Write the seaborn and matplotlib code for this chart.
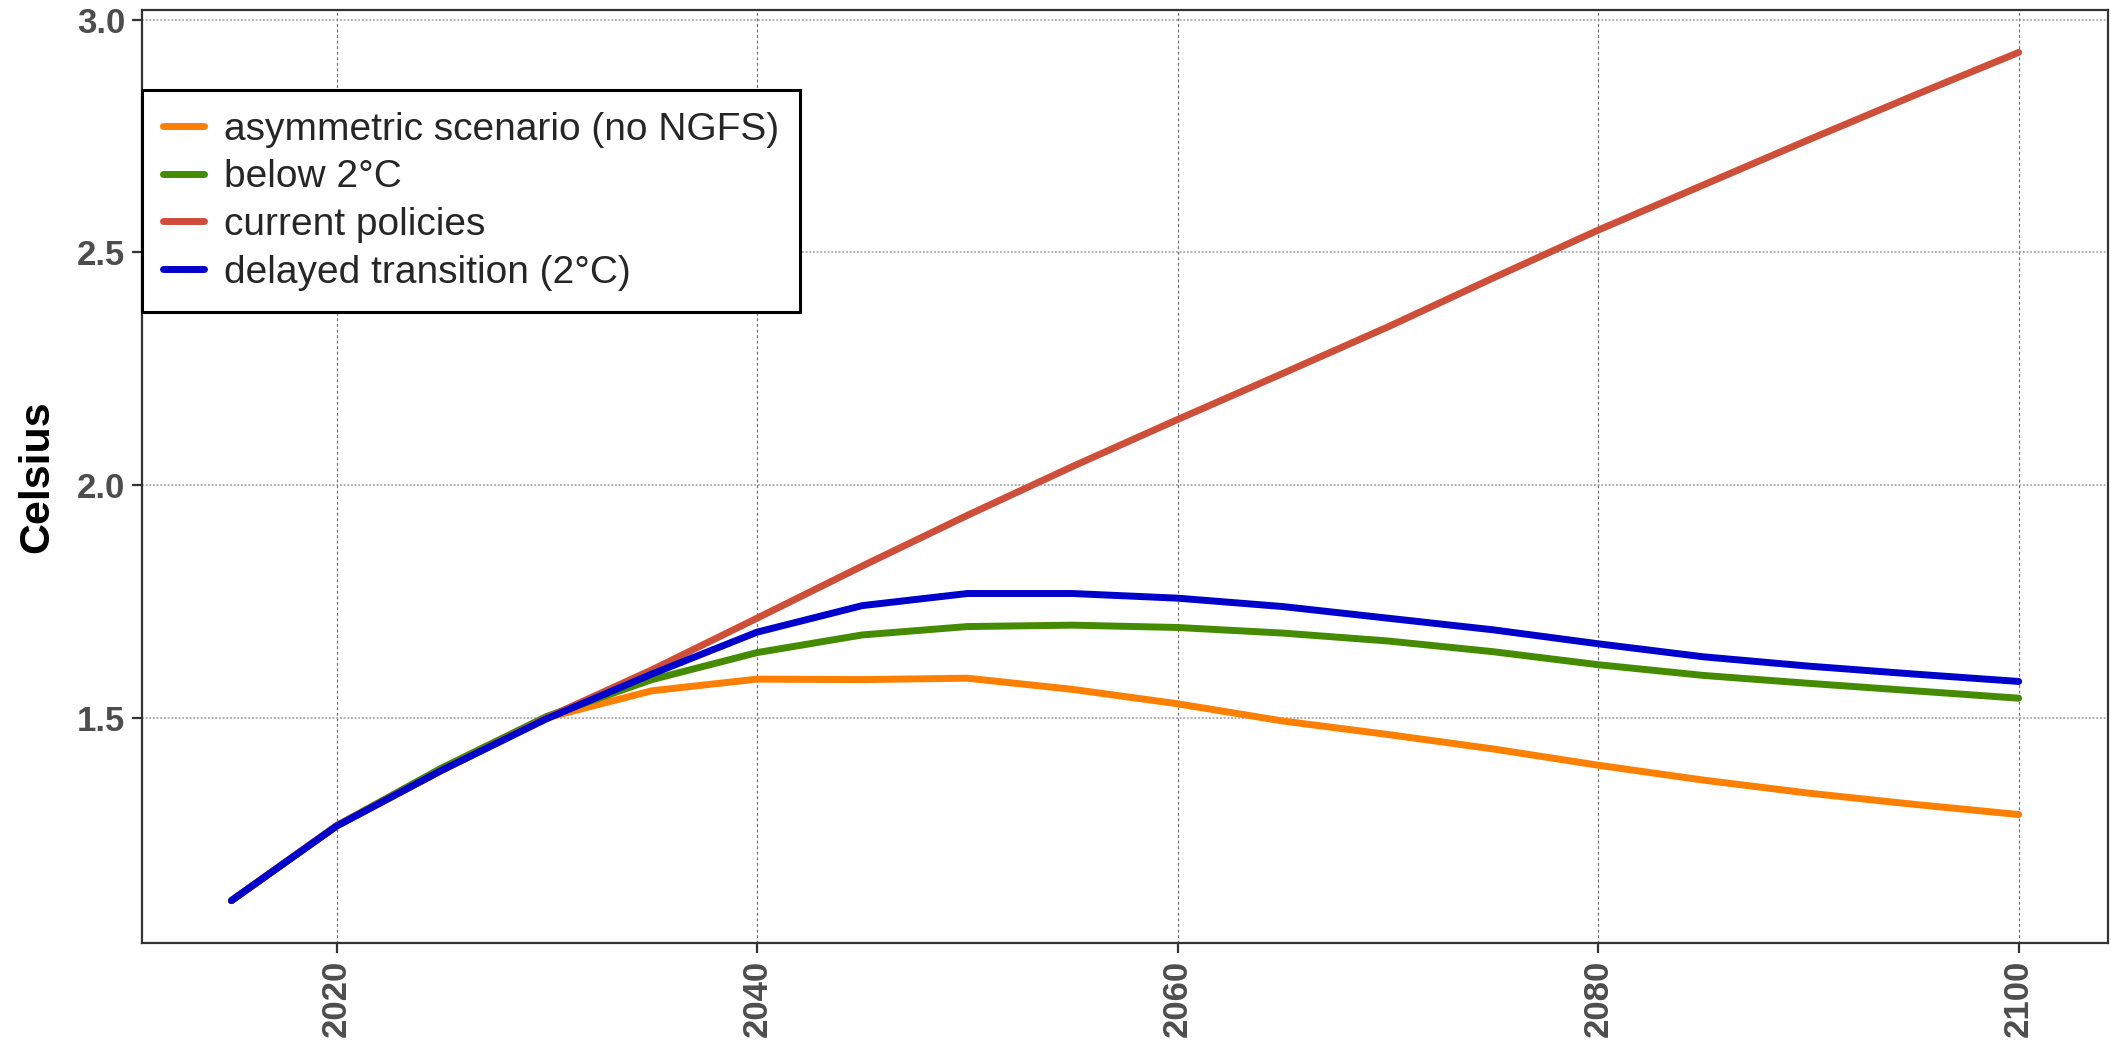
import matplotlib
matplotlib.use("Agg")
import matplotlib.pyplot as plt
import seaborn as sns
import pandas as pd

# Global mean temperature pathways by scenario (degrees Celsius)
years = list(range(2015, 2101, 5))

asymmetric = [1.107, 1.267, 1.387, 1.500, 1.558, 1.583, 1.582, 1.585, 1.561,
              1.530, 1.493, 1.464, 1.433, 1.398, 1.366, 1.338, 1.314, 1.292]
below_2c = [1.107, 1.268, 1.392, 1.503, 1.582, 1.640, 1.678, 1.696, 1.699,
            1.694, 1.682, 1.665, 1.642, 1.614, 1.591, 1.574, 1.558, 1.542]
current_policies = [1.107, 1.268, 1.387, 1.500, 1.603, 1.714, 1.826, 1.935, 2.040,
                    2.141, 2.240, 2.340, 2.445, 2.548, 2.645, 2.742, 2.837, 2.930]
delayed = [1.107, 1.267, 1.387, 1.498, 1.594, 1.684, 1.741, 1.767, 1.767,
           1.757, 1.739, 1.714, 1.689, 1.659, 1.631, 1.611, 1.594, 1.578]

scenario_names = ["asymmetric scenario (no NGFS)", "below 2°C",
                  "current policies", "delayed transition (2°C)"]
scenario_colors = ["#FF7F00", "#458B00", "#CD4F39", "#0000CD"]

x_ticks = [2020, 2040, 2060, 2080, 2100]
y_ticks = [1.5, 2.0, 2.5, 3.0]

series = [asymmetric, below_2c, current_policies, delayed]
df = pd.concat(
    [pd.DataFrame({"year": years, "celsius": vals, "scenario": name})
     for name, vals in zip(scenario_names, series)],
    ignore_index=True,
)

sns.set_theme(style="white")
plt.rcParams["font.family"] = ["Liberation Sans", "DejaVu Sans"]

fig, ax = plt.subplots(figsize=(21.11, 10.42), dpi=100)
fig.subplots_adjust(left=0.0673, right=0.9986, top=0.9904, bottom=0.095)

sns.lineplot(data=df, x="year", y="celsius", hue="scenario",
             hue_order=scenario_names,
             palette=dict(zip(scenario_names, scenario_colors)),
             linewidth=5, ax=ax, legend=True)

# data range plus 5% padding on each side
xmin, xmax = min(years), max(years)
ymin, ymax = df["celsius"].min(), df["celsius"].max()
xpad, ypad = 0.05 * (xmax - xmin), 0.05 * (ymax - ymin)
ax.set_xlim(xmin - xpad, xmax + xpad)
ax.set_ylim(ymin - ypad, ymax + ypad)

ax.set_xticks(x_ticks)
ax.set_yticks(y_ticks)
ax.set_yticklabels([f"{v:.1f}" for v in y_ticks])
ax.set_xticklabels([str(v) for v in x_ticks], rotation=90)

for v in x_ticks:
    ax.axvline(v, color="#666666", lw=0.8, ls=(0, (2.5, 2.5)), zorder=0)
for v in y_ticks:
    ax.axhline(v, color="#999999", lw=1.1, ls=(0, (1.2, 1.2)), zorder=0)

ax.tick_params(axis="both", direction="out", length=7, width=1.6,
               color="#333333", labelcolor="#4D4D4D", labelsize=25, pad=5,
               bottom=True, left=True)
for lab in ax.get_xticklabels() + ax.get_yticklabels():
    lab.set_fontweight("bold")

for sp in ax.spines.values():
    sp.set_color("#333333")
    sp.set_linewidth(1.6)

ax.set_xlabel("")
ax.set_ylabel("Celsius", fontsize=31, fontweight="bold", color="black", labelpad=14)

leg = ax.legend(loc="upper left", bbox_to_anchor=(0.0, 0.914), borderaxespad=0,
                title=None, fontsize=28, frameon=True, fancybox=False,
                framealpha=1, edgecolor="black", handlelength=1.05,
                handletextpad=0.5, borderpad=0.55, labelspacing=0.3)
leg.get_frame().set_linewidth(2.2)
for line in leg.get_lines():
    line.set_linewidth(5)

fig.savefig("out.png", dpi=100, facecolor="white")
